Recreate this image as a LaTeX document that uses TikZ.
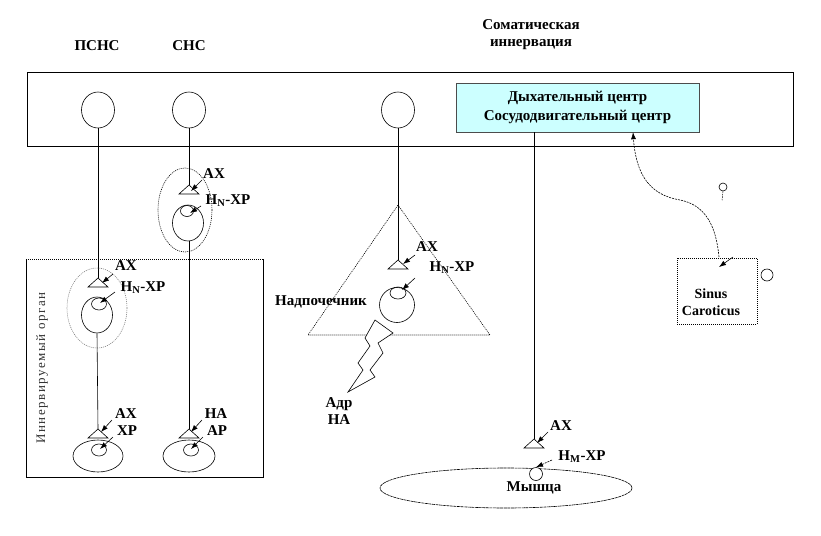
\documentclass[tikz,border=0pt]{standalone}
\usepackage{fontspec}
\setmainfont{Liberation Serif}
\newfontfamily\spacedfont[LetterSpace=12]{Liberation Serif}
\usetikzlibrary{shapes.geometric,arrows.meta}
\definecolor{lcyan}{RGB}{204,255,255}
\begin{document}
\begin{tikzpicture}[x=1pt,y=-1pt,
  lbl/.style={font=\fontsize{15}{17}\selectfont\bfseries, inner sep=0pt},
  neur/.style={draw, ellipse, minimum width=33pt, minimum height=36pt, inner sep=0pt, line width=0.6pt},
  cell/.style={draw, ellipse, inner sep=0pt, line width=0.6pt},
  tip/.style={-{Latex[length=7pt,width=5pt]}, line width=0.6pt},
  ln/.style={line width=0.6pt},
  dotline/.style={dash pattern=on 1pt off 1pt, line width=0.6pt},
  synpic/.pic={\draw[line width=0.6pt] (-10,9)--(0,0)--(10,9)--cycle;}]
\useasboundingbox (0,0) rectangle (821,535);
% top labels
\node[lbl] (psns) at (97,46) {ПСНС};
\node[lbl] (sns) at (189,46) {СНС};
\node[lbl, align=center] (som) at (531,35) {Соматическая\\иннервация};
% CNS frame
\draw[ln] (27,72) rectangle (793,146);
\node[neur] (c1) at (98,110) {};
\node[neur] (c2) at (189,110) {};
\node[neur] (c3) at (398,110) {};
\node[draw=gray!60!black, fill=lcyan, minimum width=243pt, minimum height=49pt, align=center, lbl, font=\fontsize{15}{19}\selectfont\bfseries] (ctr) at (577.5,107.5) {Дыхательный центр\\Сосудодвигательный центр};
% innervated organ box
\draw[dotline] (26,259) -- (263,259);
\draw[ln] (26,259) -- (26,477) -- (263,477) -- (263,259);
\node[rotate=90, inner sep=0pt, text=black!80, font=\spacedfont\fontsize{13}{14}\selectfont] (org) at (42,368) {Иннервируемый орган};
% ПСНС chain
\coordinate (p1) at (98,278);
\pic at (p1) {synpic};
\draw[ln] (c1.south) -- (p1);
\draw[dotline, gray] (97,308) ellipse [x radius=30, y radius=40];
\node[cell, minimum width=31pt, minimum height=36pt] (pc) at (97,315) {};
\node[cell, minimum width=15pt, minimum height=12pt] (pci) at (99,304) {};
\node[lbl] (pax1) at (126,266) {АХ};
\node[lbl] (pnx) at (143,288) {Н\textsubscript{N}-ХР};
\draw[tip] (113,274) -- (102,283);
\draw[tip] (115,292) -- (100,303);
\coordinate (p2) at (98,429);
\pic at (p2) {synpic};
\draw[ln] (pc.south) -- (p2);
\node[lbl] (pax2) at (126,414) {АХ};
\node[lbl] (pxr) at (127,431) {ХР};
\draw[tip] (112,420) -- (101,432);
\draw[tip] (113,437) -- (100,449);
\node[cell, minimum width=50pt, minimum height=32pt] (porg) at (98,456) {};
\node[cell, minimum width=15pt, minimum height=12pt] (porgi) at (99,450) {};
% СНС chain
\coordinate (s1) at (189,185);
\pic at (s1) {synpic};
\draw[ln] (c2.south) -- (s1);
\draw[dotline] (185,210) ellipse [x radius=27, y radius=42];
\node[cell, minimum width=31pt, minimum height=36pt] (sc) at (188,223) {};
\node[cell, minimum width=13pt, minimum height=11pt] (sci) at (187,211) {};
\node[lbl] (sax) at (214,174) {АХ};
\node[lbl] (snx) at (228,201) {Н\textsubscript{N}-ХР};
\draw[tip] (202,180) -- (191,191);
\draw[tip] (201,206) -- (190,213);
\coordinate (s2) at (189,429);
\pic at (s2) {synpic};
\draw[ln] (sc.south -| s2) -- (s2);
\node[lbl] (sna) at (216,414) {НА};
\node[lbl] (sar) at (217,431) {АР};
\draw[tip] (202,420) -- (191,432);
\draw[tip] (203,437) -- (191,449);
\node[cell, minimum width=52pt, minimum height=32pt] (sorg) at (189,456) {};
\node[cell, minimum width=15pt, minimum height=12pt] (sorgi) at (191,450) {};
% adrenal
\draw[dotline] (398,205) -- (490,335) -- (308,335) -- cycle;
\coordinate (a1) at (398,260);
\pic at (a1) {synpic};
\draw[ln] (c3.south) -- (a1);
\node[lbl] (aax) at (427,247) {АХ};
\node[lbl] (anx) at (452,268) {Н\textsubscript{N}-ХР};
\draw[tip] (415,255) -- (403,264);
\draw[tip] (415,278) -- (402,290);
\node[cell, minimum width=35pt, minimum height=35pt] (ac) at (397,305) {};
\node[cell, minimum width=16pt, minimum height=12pt] (aci) at (398,293) {};
\node[lbl] (nadp) at (321,302) {Надпочечник};
\draw[ln, fill=white] (375,320) -- (393,333) -- (378,343) -- (383,353) -- (370,370) -- (375,377) -- (348,392)
  -- (363,370) -- (358,363) -- (370,346) -- (365,338) -- cycle;
\node[lbl, align=center] (adrna) at (339,411) {Адр\\НА};
% muscle
\coordinate (m1) at (534,439);
\pic at (m1) {synpic};
\draw[ln] (ctr.south -| m1) -- (m1);
\node[lbl] (max) at (561,426) {АХ};
\node[lbl] (mnx) at (582,457) {Н\textsubscript{М}-ХР};
\draw[tip] (548,432) -- (537,443);
\node[draw, ellipse, minimum width=252pt, minimum height=40pt, dash pattern=on 3pt off 0.6pt, line width=0.6pt] (mus) at (506,488) {};
\node[cell, fill=white, minimum width=13pt, minimum height=13pt] (mc) at (536,474) {};
\draw[tip, dash pattern=on 2pt off 1pt] (552,460) -- (mc.north);
\node[lbl] (mt) at (534,488) {Мышца};
% sinus caroticus
\node[draw, dotline, minimum width=80pt, minimum height=66pt] (sin) at (717,291) {};
\node[lbl, align=center, font=\fontsize{14}{17}\selectfont\bfseries] (sintxt) at (711,302) {Sinus\\Caroticus};
\coordinate (sintop) at (719,257);
\draw[tip, dash pattern=on 2pt off 1pt] (sintop) .. controls (716,225) and (705,205) .. (680,200)
  .. controls (650,195) and (636,175) .. (ctr.south -| 633,0);
\draw[tip] (733,257) -- (719,267);
\node[cell, minimum width=8pt, minimum height=8pt] (pin) at (723,187) {};
\draw[dash pattern=on 1.5pt off 1pt, line width=0.5pt] (pin.south) -- ++(-1,9);
\node[cell, minimum width=12pt, minimum height=12pt] (rc) at (767,275) {};
\end{tikzpicture}
\end{document}
